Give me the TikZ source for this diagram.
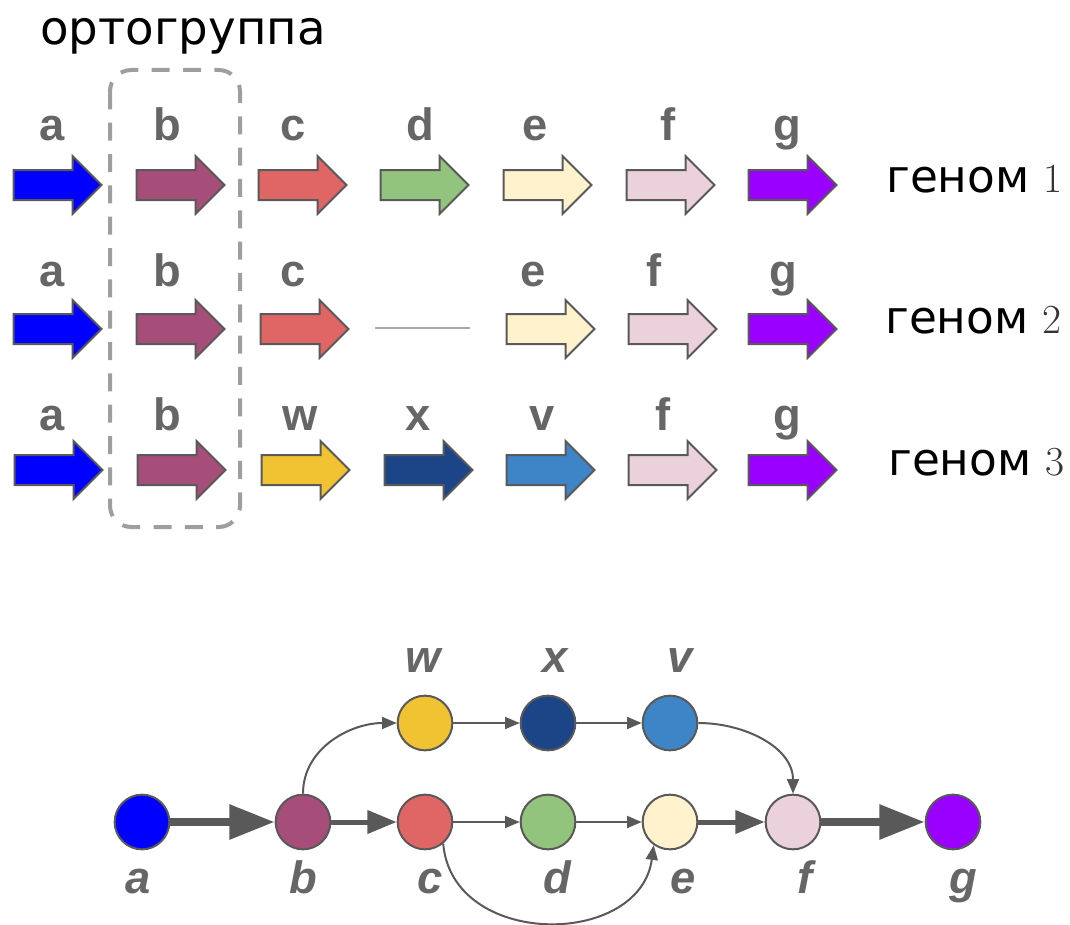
\documentclass[tikz,border=0pt]{standalone}
\usepackage{fontspec}
\setmainfont{DejaVu Sans}
\newfontfamily\genefont{Liberation Sans}
\newfontfamily\numfont{Latin Modern Roman}
\usetikzlibrary{arrows.meta,shapes.arrows,calc,positioning}

\definecolor{ga}{HTML}{0000FF}
\definecolor{gb}{HTML}{A64D79}
\definecolor{gc}{HTML}{E06666}
\definecolor{gd}{HTML}{93C47D}
\definecolor{ge}{HTML}{FFF2CC}
\definecolor{gf}{HTML}{EAD1DC}
\definecolor{gg}{HTML}{9900FF}
\definecolor{gw}{HTML}{F1C232}
\definecolor{gx}{HTML}{1C4587}
\definecolor{gv}{HTML}{3D85C6}
\definecolor{edgegray}{HTML}{595959}
\definecolor{labgray}{HTML}{666666}
\definecolor{boxgray}{HTML}{9E9E9E}
\definecolor{gapgray}{HTML}{AAAAAA}
\definecolor{numgray}{HTML}{333333}

\newcommand{\genomenum}[1]{\hspace{10.5pt}{\numfont\fontsize{31}{36}\selectfont\color{numgray}#1}}

\begin{document}
\begin{tikzpicture}[x=0.75pt, y=0.75pt]
    \tikzset{GeneStyle/.style = {shape=single arrow, draw=edgegray,
        line width=1.5pt, inner sep=10.5pt, outer sep=0pt,
        single arrow head extend=10.5pt, minimum height=66pt},
      GeneLabel/.style = {anchor=base, text=labgray,
        font=\genefont\bfseries\fontsize{34}{40}\selectfont},
      GenomeStyle/.style = {anchor=base west, inner sep=0pt,
        font=\fontsize{34}{40}\selectfont},
      VertexStyle/.style = {circle, draw=edgegray, line width=1.5pt,
        minimum size=41pt, inner sep=0pt},
      VertexLabel/.style = {anchor=base, text=labgray,
        font=\genefont\bfseries\itshape\fontsize{34}{40}\selectfont},
      EdgeStyle/.style = {draw=edgegray, line width=1.5pt,
        -{Triangle[length=11pt, width=9pt]}},
      MidEdge/.style = {draw=edgegray, line width=3.75pt,
        -{Triangle[length=22pt, width=17pt]}},
      ThickEdge/.style = {draw=edgegray, line width=6pt,
        -{Triangle[length=34pt, width=25pt]}}}
    \useasboundingbox (0,0) rectangle (1070,-924);

    \node[anchor=base, font=\fontsize{35}{40}\selectfont] (ortho) at (183,-45) {ортогруппа};
    \draw[boxgray, line width=3pt, dash pattern=on 13.5pt off 10pt,
      rounded corners=16pt] (110,-70) rectangle (240,-527);

    % genome 1
    \node[GeneStyle, fill=ga] (r1a) at (50,-185) {};
    \node[GeneStyle, fill=gb] (r1b) at (173,-185) {};
    \node[GeneStyle, fill=gc] (r1c) at (295,-185) {};
    \node[GeneStyle, fill=gd] (r1d) at (417,-185) {};
    \node[GeneStyle, fill=ge] (r1e) at (540,-185) {};
    \node[GeneStyle, fill=gf] (r1f) at (663,-185) {};
    \node[GeneStyle, fill=gg] (r1g) at (785,-185) {};
    \node[GeneLabel] (l1a) at (52,-140) {a};
    \node[GeneLabel] (l1b) at (167,-140) {b};
    \node[GeneLabel] (l1c) at (293,-140) {c};
    \node[GeneLabel] (l1d) at (420,-140) {d};
    \node[GeneLabel] (l1e) at (535,-140) {e};
    \node[GeneLabel] (l1f) at (668,-140) {f};
    \node[GeneLabel] (l1g) at (787,-140) {g};
    \node[GenomeStyle] (gen1) at (886,-192) {геном\genomenum{1}};

    % genome 2
    \node[GeneStyle, fill=ga] (r2a) at (50,-329) {};
    \node[GeneStyle, fill=gb] (r2b) at (173,-329) {};
    \node[GeneStyle, fill=gc] (r2c) at (297,-329) {};
    \coordinate (gapL) at (375,-328);
    \coordinate (gapR) at (470,-328);
    \draw[gapgray, line width=1.5pt] (gapL) -- (gapR);
    \node[GeneStyle, fill=ge] (r2e) at (543,-329) {};
    \node[GeneStyle, fill=gf] (r2f) at (665,-329) {};
    \node[GeneStyle, fill=gg] (r2g) at (785,-329) {};
    \node[GeneLabel] (l2a) at (52,-286) {a};
    \node[GeneLabel] (l2b) at (167,-286) {b};
    \node[GeneLabel] (l2c) at (293,-286) {c};
    \node[GeneLabel] (l2e) at (533,-286) {e};
    \node[GeneLabel] (l2f) at (654,-286) {f};
    \node[GeneLabel] (l2g) at (783,-286) {g};
    \node[GenomeStyle] (gen2) at (885,-333) {геном\genomenum{2}};

    % genome 3
    \node[GeneStyle, fill=ga] (r3a) at (51,-470) {};
    \node[GeneStyle, fill=gb] (r3b) at (174,-470) {};
    \node[GeneStyle, fill=gw] (r3w) at (298,-470) {};
    \node[GeneStyle, fill=gx] (r3x) at (421,-470) {};
    \node[GeneStyle, fill=gv] (r3v) at (543,-470) {};
    \node[GeneStyle, fill=gf] (r3f) at (665,-470) {};
    \node[GeneStyle, fill=gg] (r3g) at (785,-470) {};
    \node[GeneLabel] (l3a) at (52,-430) {a};
    \node[GeneLabel] (l3b) at (167,-430) {b};
    \node[GeneLabel] (l3w) at (300,-430) {w};
    \node[GeneLabel] (l3x) at (418,-430) {x};
    \node[GeneLabel] (l3v) at (542,-430) {v};
    \node[GeneLabel] (l3f) at (663,-430) {f};
    \node[GeneLabel] (l3g) at (787,-430) {g};
    \node[GenomeStyle] (gen3) at (888,-475) {геном\genomenum{3}};

    % graph
    \node[VertexStyle, fill=ga] (A) at (142,-822) {};
    \node[VertexStyle, fill=gb] (B) at (303,-822) {};
    \node[VertexStyle, fill=gc] (C) at (425,-822) {};
    \node[VertexStyle, fill=gd] (D) at (548,-822) {};
    \node[VertexStyle, fill=ge] (E) at (670,-822) {};
    \node[VertexStyle, fill=gf] (F) at (793,-822) {};
    \node[VertexStyle, fill=gg] (G) at (953,-822) {};
    \node[VertexStyle, fill=gw] (W) at (425,-723) {};
    \node[VertexStyle, fill=gx] (X) at (548,-723) {};
    \node[VertexStyle, fill=gv] (V) at (670,-723) {};
    \node[VertexLabel] at (138,-893) {a};
    \node[VertexLabel] at (303,-893) {b};
    \node[VertexLabel] at (430,-893) {c};
    \node[VertexLabel] at (557,-893) {d};
    \node[VertexLabel] at (683,-893) {e};
    \node[VertexLabel] at (805,-893) {f};
    \node[VertexLabel] at (963,-893) {g};
    \node[VertexLabel] at (423,-672) {w};
    \node[VertexLabel] at (555,-672) {x};
    \node[VertexLabel] at (680,-672) {v};

    \draw[ThickEdge] (A) -- (B);
    \draw[MidEdge] (B) -- (C);
    \draw[EdgeStyle] (C) -- (D);
    \draw[EdgeStyle] (D) -- (E);
    \draw[MidEdge] (E) -- (F);
    \draw[ThickEdge] (F) -- (G);
    \draw[EdgeStyle] (W) -- (X);
    \draw[EdgeStyle] (X) -- (V);
    \draw[EdgeStyle] (B) to[out=90, in=180] (W);
    \draw[EdgeStyle] (V) to[out=0, in=90] (F);
    \draw[EdgeStyle] (C.-50) .. controls +(9,-105) and +(-14,-103) .. (E.-125);
  \end{tikzpicture}
\end{document}
